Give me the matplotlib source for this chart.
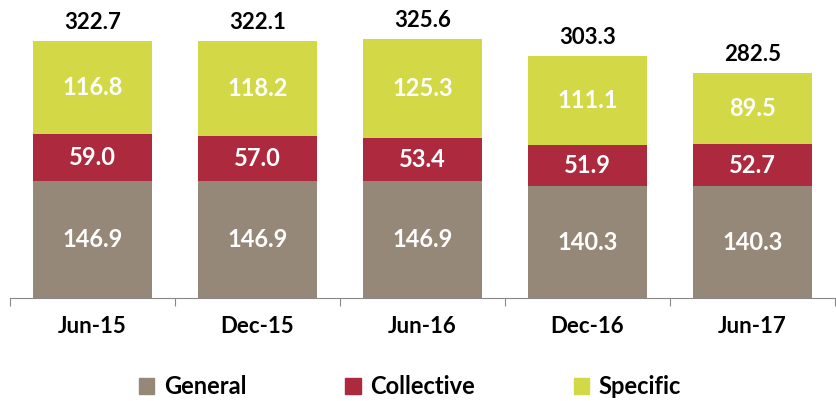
import matplotlib
matplotlib.use("Agg")
import matplotlib.pyplot as plt
from matplotlib.patches import Patch

categories = ["Jun-15", "Dec-15", "Jun-16", "Dec-16", "Jun-17"]
general = [146.9, 146.9, 146.9, 140.3, 140.3]
collective = [59.0, 57.0, 53.4, 51.9, 52.7]
specific = [116.8, 118.2, 125.3, 111.1, 89.5]
totals = [322.7, 322.1, 325.6, 303.3, 282.5]

c_gen = "#968878"
c_col = "#AD2A3E"
c_spe = "#D2D846"

plt.rcParams['font.family'] = ['Lato', 'DejaVu Sans']

fig = plt.figure(figsize=(8.37, 4.01), dpi=100)
ax = fig.add_axes([10/837, 103/401, 825/837, 298/401])

x = list(range(len(categories)))
w = 0.72
ax.bar(x, general, w, color=c_gen)
ax.bar(x, collective, w, bottom=general, color=c_col)
bot3 = [g + c for g, c in zip(general, collective)]
ax.bar(x, specific, w, bottom=bot3, color=c_spe)

for i in x:
    ax.text(i, general[i] / 2, f"{general[i]:.1f}", ha="center", va="center",
            color="white", fontsize=17, fontweight="bold")
    ax.text(i, general[i] + collective[i] / 2, f"{collective[i]:.1f}", ha="center", va="center",
            color="white", fontsize=17, fontweight="bold")
    ax.text(i, bot3[i] + specific[i] / 2, f"{specific[i]:.1f}", ha="center", va="center",
            color="white", fontsize=17, fontweight="bold")
    ax.text(i, totals[i] + 10, f"{totals[i]:.1f}", ha="center", va="bottom",
            color="black", fontsize=16, fontweight="bold")

ax.set_xlim(-0.5, len(categories) - 0.5)
ax.set_ylim(0, 374)
for s in ["top", "right", "left"]:
    ax.spines[s].set_visible(False)
ax.spines["bottom"].set_color("#888888")
ax.set_yticks([])
ax.set_xticks([i - 0.5 for i in range(len(categories) + 1)], minor=False)
ax.set_xticklabels([])
ax.tick_params(axis="x", which="major", length=6, color="#888888")
ax.set_xticks(x, minor=True)
ax.set_xticklabels(categories, minor=True, fontsize=16, fontweight="bold")
ax.tick_params(axis="x", which="minor", length=0, pad=13)

handles = [Patch(color=c_gen, label="General"), Patch(color=c_col, label="Collective"),
           Patch(color=c_spe, label="Specific")]
fig.legend(handles=handles, loc="center", bbox_to_anchor=(0.49, 14/401), ncol=3, frameon=False,
           prop={"size": 17, "weight": "bold"}, handlelength=0.65, handleheight=0.65,
           columnspacing=4.2, handletextpad=0.4, borderpad=0.1)

fig.savefig("out.png", dpi=100)
